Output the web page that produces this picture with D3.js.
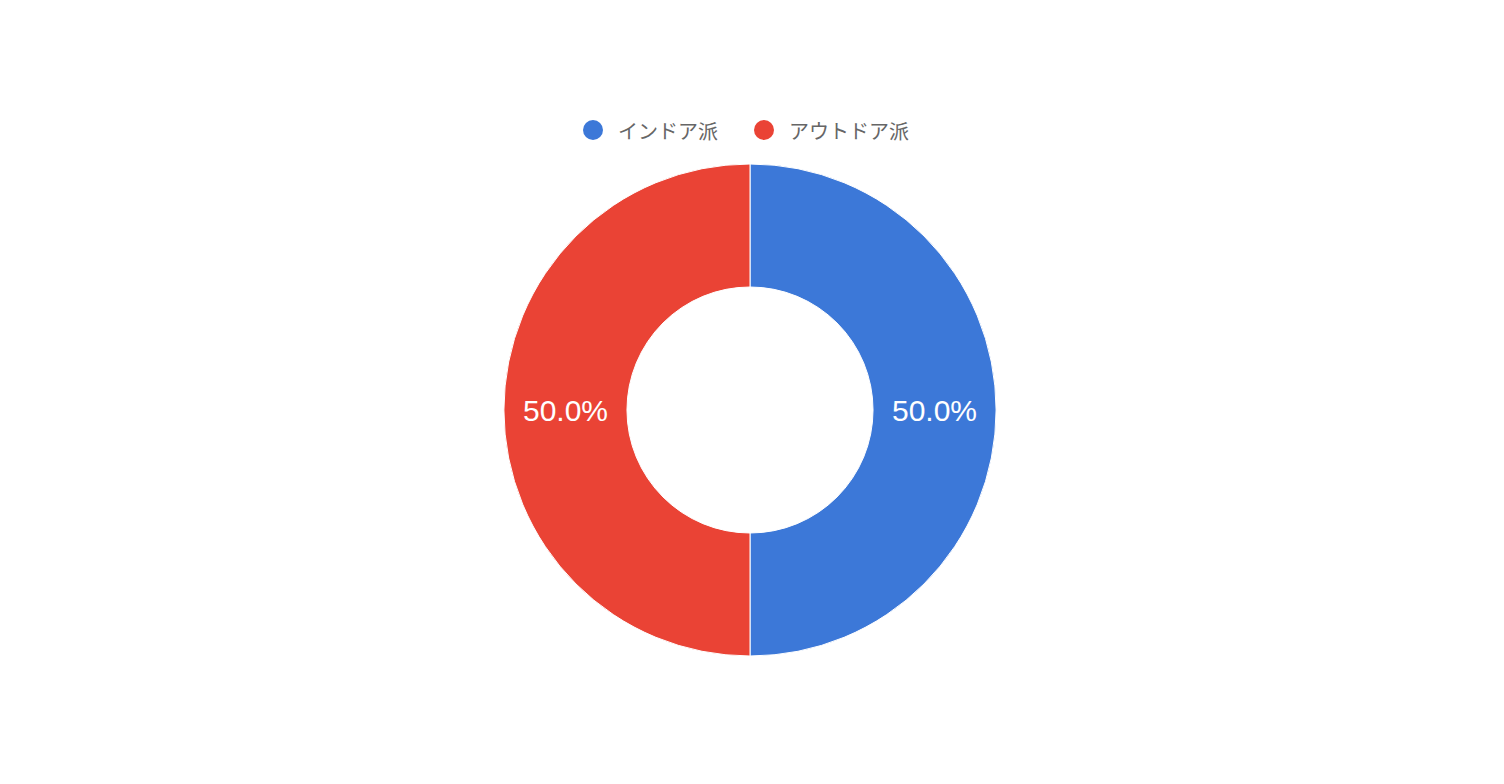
<!DOCTYPE html>
<html>
<head>
<meta charset="utf-8">
<title>インドア派 / アウトドア派</title>
<style>
    body { margin: 0; background: #fff; }
    svg { display: block; }
</style>
</head>
<body>
<svg id="chart" width="1504" height="784"></svg>
<script src="https://d3js.org/d3.v7.min.js"></script>
<script>
    // data
    const categories = ["インドア派", "アウトドア派"];
    const values = [50, 50];
    const colors = ["#3c78d8", "#ea4335"];

    const svg = d3.select("#chart");
    const cx = 750, cy = 410;
    const outerR = 246, innerR = 123;

    const pie = d3.pie().sort(null).value(d => d.value);
    const arcs = pie(categories.map((c, i) => ({ name: c, value: values[i], color: colors[i] })));
    const arc = d3.arc().innerRadius(innerR).outerRadius(outerR);
    const total = d3.sum(values);

    const g = svg.append("g").attr("transform", `translate(${cx},${cy})`);
    g.selectAll("path")
        .data(arcs)
        .join("path")
        .attr("d", arc)
        .attr("fill", d => d.data.color)
        .attr("stroke", "#fff")
        .attr("stroke-width", 1);

    g.selectAll("text.lbl")
        .data(arcs)
        .join("text")
        .attr("class", "lbl")
        .attr("x", d => arc.centroid(d)[0])
        .attr("y", d => arc.centroid(d)[1])
        .attr("text-anchor", "middle")
        .attr("dominant-baseline", "central")
        .attr("fill", "#fff")
        .style("font-family", "Arial, 'Liberation Sans', sans-serif")
        .style("font-size", "30px")
        .text(d => d3.format(".1f")(d.data.value / total * 100) + "%");

    // legend
    const legendX = [593, 764];
    const legend = svg.append("g");
    const items = legend.selectAll("g")
        .data(categories)
        .join("g")
        .attr("transform", (d, i) => `translate(${legendX[i]},130)`);
    items.append("circle")
        .attr("r", 10)
        .attr("fill", (d, i) => colors[i]);
    items.append("text")
        .attr("x", 25)
        .attr("dominant-baseline", "central")
        .attr("fill", "#666")
        .style("font-family", "'Noto Sans CJK JP', sans-serif")
        .style("font-size", "20px")
        .text(d => d);
</script>
</body>
</html>
